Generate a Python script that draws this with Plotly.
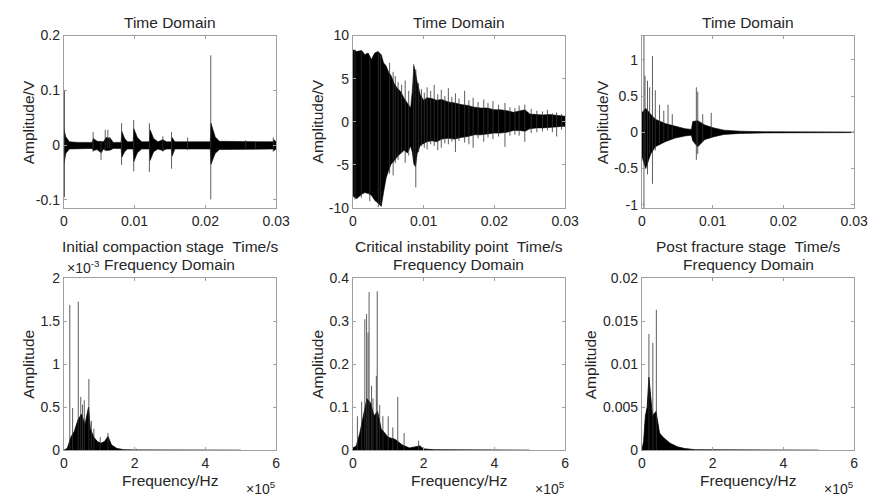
import plotly.graph_objects as go

W, H = 891, 503

# ---------------- data ----------------
# Panel 1: Initial compaction stage (time domain, V)
p1_t   = [0, 0.0003, 0.0008, 0.002, 0.004, 0.0042, 0.0047, 0.0053, 0.0056, 0.006, 0.0066, 0.007,
          0.0081, 0.0082, 0.0086, 0.009, 0.0098, 0.0099, 0.0104, 0.011, 0.0121, 0.0122, 0.0127,
          0.0133, 0.0140, 0.0145, 0.0152, 0.0153, 0.0157, 0.0207, 0.0208, 0.0214, 0.022, 0.0296,
          0.0297, 0.03]
p1_up  = [0.03, 0.015, 0.006, 0.005, 0.005, 0.012, 0.007, 0.007, 0.006, 0.014, 0.012, 0.005,
          0.005, 0.025, 0.012, 0.006, 0.006, 0.03, 0.014, 0.006, 0.006, 0.028, 0.012,
          0.006, 0.010, 0.006, 0.006, 0.014, 0.006, 0.006, 0.04, 0.015, 0.007, 0.006,
          0.010, 0.006]
p1_lo  = [-0.035, -0.015, -0.007, -0.006, -0.006, -0.010, -0.008, -0.014, -0.007, -0.010, -0.009, -0.006,
          -0.006, -0.022, -0.012, -0.007, -0.007, -0.03, -0.014, -0.007, -0.007, -0.028, -0.012,
          -0.007, -0.010, -0.007, -0.007, -0.020, -0.007, -0.007, -0.035, -0.015, -0.008, -0.007,
          -0.010, -0.007]
p1_spk_t   = [0.0001, 0.00415, 0.00526, 0.00586, 0.00623, 0.0065, 0.00817, 0.00988, 0.0121, 0.0140,
              0.01523, 0.0175, 0.02077, 0.0257, 0.0271, 0.0296]
p1_spk_top = [0.101, 0.024, 0.008, 0.028, 0.028, 0.015, 0.040, 0.046, 0.040, 0.016,
              0.024, 0.014, 0.164, 0.009, 0.006, 0.014]
p1_spk_bot = [-0.095, -0.012, -0.027, -0.010, -0.006, -0.006, -0.036, -0.048, -0.049, -0.012,
              -0.043, -0.009, -0.099, -0.006, -0.006, -0.012]

# Panel 2: Critical instability point
p2_t  = [0, 0.00055, 0.00125, 0.0017, 0.00217, 0.00263, 0.00309, 0.00355, 0.00402, 0.00434,
         0.00471, 0.00508, 0.0054, 0.00586, 0.00632, 0.00678, 0.00725, 0.00771, 0.00817, 0.0084,
         0.00863, 0.00886, 0.00909, 0.00955, 0.01002, 0.01048, 0.01117, 0.01186, 0.01255, 0.01348,
         0.0144, 0.01532, 0.01625, 0.01717, 0.01809, 0.01902, 0.01994, 0.02086, 0.02178, 0.02271,
         0.02363, 0.02432, 0.02502, 0.02594, 0.02686, 0.02778, 0.02871, 0.03]
p2_up = [8.35, 8.16, 8.27, 7.79, 7.98, 7.23, 7.98, 8.16, 7.79, 6.85,
         6.48, 5.73, 5.36, 4.42, 3.86, 3.48, 2.73, 2.17, 1.61, 3.48,
         6.48, 5.73, 4.61, 3.11, 2.5, 2.8, 2.7, 2.5, 2.6, 2.3,
         2.2, 2.0, 1.9, 1.7, 1.6, 1.6, 1.4, 1.4, 1.3, 1.1,
         1.3, 1.4, 0.9, 0.85, 0.8, 0.85, 0.75, 0.65]
p2_lo = [-8.6, -8.9, -8.4, -8.2, -8.3, -8.5, -9.1, -9.4, -9.8, -8.2,
         -6.5, -5.6, -4.9, -4.5, -4.0, -3.6, -3.3, -3.6, -2.8, -3.5,
         -4.9, -5.2, -3.7, -2.7, -2.5, -2.3, -2.2, -2.3, -2.0, -1.9,
         -2.0, -1.8, -1.7, -1.5, -1.5, -1.4, -1.3, -1.3, -1.2, -1.0,
         -1.0, -1.1, -0.8, -0.7, -0.7, -0.6, -0.6, -0.5]
p2_spk_t   = [0.0003, 0.0012, 0.0024, 0.0036, 0.0039, 0.0052, 0.0057, 0.0060, 0.0064, 0.0069,
              0.0074, 0.0079, 0.0086, 0.0089, 0.0093, 0.0097, 0.0101, 0.0105, 0.0110, 0.0115,
              0.0120, 0.0125, 0.0130, 0.0135, 0.0140, 0.0145, 0.0150, 0.0158, 0.0164, 0.0170,
              0.0177, 0.0185, 0.0191, 0.0198, 0.0206, 0.0215, 0.0222, 0.0229, 0.0235, 0.0243,
              0.0252, 0.0260, 0.0268, 0.0275, 0.0282, 0.0288, 0.0295]
p2_spk_top = [8.4, 8.2, 7.5, 8.0, 7.8, 6.85, 5.8, 5.3, 4.6, 4.3,
              4.8, 3.6, 6.7, 6.1, 4.5, 3.8, 3.4, 4.0, 3.6, 4.3,
              3.2, 3.7, 3.0, 3.9, 2.9, 3.3, 2.7, 3.6, 2.5, 2.8,
              2.3, 2.6, 2.2, 2.4, 2.0, 2.2, 1.7, 1.6, 1.9, 2.0,
              1.5, 1.3, 1.2, 1.4, 1.0, 1.1, 0.9]
p2_spk_bot = [-9.0, -8.8, -9.2, -9.9, -9.6, -6.0, -6.2, -4.8, -4.4, -3.6,
              -4.75, -3.9, -4.5, -7.6, -3.5, -2.8, -3.0, -3.2, -2.6, -2.8,
              -3.3, -3.0, -2.5, -2.6, -2.3, -3.5, -2.2, -2.4, -2.6, -3.0,
              -1.9, -2.3, -1.8, -2.0, -1.7, -2.9, -1.6, -1.5, -1.6, -2.3,
              -1.3, -1.2, -1.1, -1.0, -1.2, -1.7, -0.9]

# Panel 3: Post fracture stage
p3_t  = [0, 0.00055, 0.00125, 0.0019, 0.0033, 0.0047, 0.0061, 0.0070, 0.0072, 0.0079, 0.0089,
         0.0102, 0.0116, 0.0139, 0.0176, 0.03]
p3_up = [0.27, 0.33, 0.25, 0.18, 0.12, 0.08, 0.05, 0.04, 0.15, 0.16, 0.10,
         0.06, 0.03, 0.015, 0.008, 0.004]
p3_lo = [-0.33, -0.50, -0.30, -0.20, -0.13, -0.08, -0.05, -0.04, -0.12, -0.20, -0.10,
         -0.06, -0.03, -0.015, -0.008, -0.004]
p3_spk_t   = [0.0003, 0.00045, 0.0008, 0.0011, 0.0015, 0.0019, 0.0025, 0.0031, 0.0037, 0.0043,
              0.0077, 0.0079, 0.0086, 0.0098]
p3_spk_top = [1.333, 0.78, 0.71, 0.62, 1.05, 0.58, 0.38, 0.30, 0.38, 0.25,
              0.62, 0.56, 0.25, 0.27]
p3_spk_bot = [-1.045, -0.45, -0.58, -0.30, -0.71, -0.25, -0.15, -0.12, -0.10, -0.08,
              -0.38, -0.30, -0.12, -0.08]

# Frequency-domain spectra (frequency in units of 1e5 Hz)
p4_f    = [0, 0.1, 0.2, 0.3, 0.4, 0.5, 0.6, 0.65, 0.7, 0.75, 0.85, 0.95, 1.05, 1.15, 1.25,
           1.35, 1.5, 1.7, 2.0, 5.0]
p4_amp  = [0, 0.02, 0.15, 0.22, 0.35, 0.42, 0.30, 0.40, 0.50, 0.25, 0.15, 0.10, 0.08, 0.10, 0.16,
           0.06, 0.02, 0.005, 0.003, 0.0]          # x1e-3
p4_spk_f   = [0.17, 0.25, 0.41, 0.48, 0.53, 0.58, 0.71, 0.78, 0.85, 1.03, 1.25, 2.05]
p4_spk_amp = [1.69, 0.49, 1.73, 0.62, 0.53, 0.58, 0.83, 0.34, 0.25, 0.15, 0.20, 0.015]

p5_f   = [0, 0.1, 0.2, 0.3, 0.4, 0.5, 0.6, 0.7, 0.8, 0.9, 1.0, 1.2, 1.4, 1.6, 1.85, 1.9, 2.0, 2.3, 5.0]
p5_amp = [0.005, 0.01, 0.04, 0.08, 0.12, 0.11, 0.08, 0.09, 0.05, 0.04, 0.03, 0.025, 0.012, 0.005,
          0.01, 0.01, 0.003, 0.001, 0.0]
p5_spk_f   = [0.13, 0.25, 0.34, 0.39, 0.43, 0.46, 0.53, 0.57, 0.665, 0.69, 0.76, 0.85, 1.0, 1.13,
              1.27, 1.45, 1.86]
p5_spk_amp = [0.079, 0.113, 0.305, 0.317, 0.274, 0.368, 0.150, 0.120, 0.173, 0.370, 0.105, 0.079,
              0.079, 0.053, 0.124, 0.040, 0.022]

p6_f   = [0, 0.05, 0.1, 0.15, 0.2, 0.25, 0.3, 0.4, 0.5, 0.6, 0.8, 1.0, 1.2, 1.5, 5.0]
p6_amp = [0, 0.001, 0.004, 0.005, 0.0085, 0.006, 0.004, 0.0045, 0.002, 0.0015, 0.0008, 0.0004,
          0.0002, 0.00005, 0.0]
p6_spk_f   = [0.20, 0.31, 0.41]
p6_spk_amp = [0.01353, 0.0125, 0.01635]

stage_labels = ["Initial compaction stage  Time/s", "Critical instability point  Time/s",
                "Post fracture stage  Time/s"]
time_ticks = [0, 0.01, 0.02, 0.03]
time_tick_text = ["0", "0.01", "0.02", "0.03"]
y_ticks = [[-0.1, 0, 0.1, 0.2], [-10, -5, 0, 5, 10], [-1, -0.5, 0, 0.5, 1]]
y_tick_text = [["-0.1", "0", "0.1", "0.2"], ["-10", "-5", "0", "5", "10"],
               ["-1", "-0.5", "0", "0.5", "1"]]
y_ranges = [[-0.115, 0.2], [-10, 10], [-1.045, 1.333]]
f_ticks = [0, 2, 4, 6]
fy_ticks = [[0, 0.5, 1, 1.5, 2], [0, 0.1, 0.2, 0.3, 0.4], [0, 0.005, 0.01, 0.015, 0.02]]
fy_tick_text = [["0", "0.5", "1", "1.5", "2"], ["0", "0.1", "0.2", "0.3", "0.4"],
                ["0", "0.005", "0.01", "0.015", "0.02"]]
fy_ranges = [[0, 2], [0, 0.4], [0, 0.02]]

# ---------------- layout geometry (pixels) ----------------
col_x = [(61, 277.7), (356, 572.7), (651, 867.7)]
top_y = (28.5, 206.7)
bot_y = (279.3, 456.7)
FONT = "Liberation Sans, Arial, sans-serif"
TXT = "#262626"
AX = "#a0a0a0"
LBL = 15.5

def px(x):
    return x / W

def py(y):
    return 1 - y / H

fig = go.Figure()

time_data = [(p1_t, p1_up, p1_lo, p1_spk_t, p1_spk_top, p1_spk_bot),
             (p2_t, p2_up, p2_lo, p2_spk_t, p2_spk_top, p2_spk_bot),
             (p3_t, p3_up, p3_lo, p3_spk_t, p3_spk_top, p3_spk_bot)]
freq_data = [(p4_f, p4_amp, p4_spk_f, p4_spk_amp),
             (p5_f, p5_amp, p5_spk_f, p5_spk_amp),
             (p6_f, p6_amp, p6_spk_f, p6_spk_amp)]

def axis_style(**kw):
    d = dict(showline=True, linecolor=AX, linewidth=1, mirror="ticks", ticks="inside",
             ticklen=3, tickcolor=AX, showgrid=False, zeroline=False,
             tickfont=dict(family=FONT, size=14, color=TXT), fixedrange=True)
    d.update(kw)
    return d

layout = {}
annotations = []
for i in range(3):
    # time-domain panel
    n = i + 1
    xa, ya = f"x{n}", f"y{n}"
    t, up, lo, st, stop, sbot = time_data[i]
    fig.add_trace(go.Scatter(x=t + t[::-1], y=up + lo[::-1], fill="toself", mode="lines",
                             fillcolor="black", line=dict(color="black", width=0.6),
                             xaxis=xa, yaxis=ya, hoverinfo="skip", showlegend=False))
    sx, sy = [], []
    for a, b, c in zip(st, stop, sbot):
        sx += [a, a, None]
        sy += [c, b, None]
    fig.add_trace(go.Scatter(x=sx, y=sy, mode="lines", line=dict(color="#333", width=0.8),
                             xaxis=xa, yaxis=ya, hoverinfo="skip", showlegend=False))
    layout[f"xaxis{n}"] = axis_style(domain=[px(col_x[i][0]), px(col_x[i][1])], anchor=ya,
                                     range=[0, 0.03], tickvals=time_ticks, ticktext=time_tick_text)
    layout[f"yaxis{n}"] = axis_style(domain=[py(top_y[1]), py(top_y[0])], anchor=xa,
                                     range=y_ranges[i], tickvals=y_ticks[i], ticktext=y_tick_text[i])
    cx = (col_x[i][0] + col_x[i][1]) / 2
    annotations.append(dict(text="Time Domain", x=px(cx), y=py(15), size=LBL))
    annotations.append(dict(text=stage_labels[i], x=px(cx), y=py(246), size=LBL))

    # frequency-domain panel
    m = i + 4
    xa, ya = f"x{m}", f"y{m}"
    f, amp, sf, sa = freq_data[i]
    fig.add_trace(go.Scatter(x=f, y=amp, fill="tozeroy", mode="lines", fillcolor="black",
                             line=dict(color="black", width=0.8), xaxis=xa, yaxis=ya,
                             hoverinfo="skip", showlegend=False))
    sx, sy = [], []
    for a, b in zip(sf, sa):
        sx += [a, a, None]
        sy += [0, b, None]
    fig.add_trace(go.Scatter(x=sx, y=sy, mode="lines", line=dict(color="#333", width=0.8),
                             xaxis=xa, yaxis=ya, hoverinfo="skip", showlegend=False))
    layout[f"xaxis{m}"] = axis_style(domain=[px(col_x[i][0]), px(col_x[i][1])], anchor=ya,
                                     range=[0, 6], tickvals=f_ticks, ticktext=[str(v) for v in f_ticks])
    layout[f"yaxis{m}"] = axis_style(domain=[py(bot_y[1]), py(bot_y[0])], anchor=xa,
                                     range=fy_ranges[i], tickvals=fy_ticks[i], ticktext=fy_tick_text[i])
    annotations.append(dict(text="Frequency Domain", x=px(cx), y=py(265), size=LBL))
    annotations.append(dict(text="Frequency/Hz", x=px(cx), y=py(488), size=LBL))
    annotations.append(dict(text="×10<sup>5</sup>", x=px(col_x[i][1] + 2), y=py(496),
                            xanchor="right", size=14))

# y-axis titles
ylab_x = [25, 320, 611.7]
for i in range(3):
    annotations.append(dict(text="Amplitude/V", x=px(ylab_x[i]), y=py((top_y[0] + top_y[1]) / 2),
                            textangle=-90, size=LBL))
flab_x = [25, 320, 598]
for i in range(3):
    annotations.append(dict(text="Amplitude", x=px(flab_x[i]), y=py((bot_y[0] + bot_y[1]) / 2),
                            textangle=-90, size=LBL))
annotations.append(dict(text="×10<sup>-3</sup>", x=px(62), y=py(267), xanchor="left", size=14))

for a in annotations:
    sz = a.pop("size")
    a.update(xref="paper", yref="paper", showarrow=False,
             font=dict(family=FONT, size=sz, color=TXT))
    a.setdefault("xanchor", "center")
    a.setdefault("yanchor", "middle")

fig.update_layout(width=W, height=H, margin=dict(l=0, r=0, t=0, b=0),
                  paper_bgcolor="white", plot_bgcolor="white", annotations=annotations,
                  showlegend=False, **layout)
fig.write_html("out.html")
